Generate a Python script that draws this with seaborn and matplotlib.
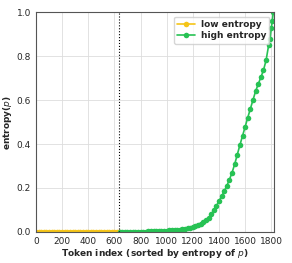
import pandas as pd
import matplotlib
matplotlib.use("Agg")
import matplotlib.pyplot as plt
import seaborn as sns

# low entropy tokens (sorted), all near zero
low_idx = [0, 20, 40, 60, 80, 100, 120, 140, 160, 180, 200, 220, 240, 260, 280, 300,
           320, 340, 360, 380, 400, 420, 440, 460, 480, 500, 520, 540, 560, 580, 600,
           620, 635]
low_ent = [0.0, 0.0, 0.0, 0.0, 0.0, 0.0, 0.0, 0.0, 0.0, 0.0, 0.0, 0.0, 0.0, 0.0, 0.0, 0.0,
           0.0, 0.0, 0.0, 0.0, 0.0, 0.0, 0.0, 0.0, 0.0, 0.0, 0.0, 0.0, 0.0, 0.0, 0.0,
           0.0, 0.0]

# high entropy tokens
high_idx = [640, 660, 680, 700, 720, 740, 760, 780, 800, 820, 840, 860, 880, 900, 920,
            940, 960, 980, 1000, 1020, 1040, 1060, 1080, 1100, 1120, 1140, 1160, 1180,
            1200, 1220, 1240, 1260, 1280, 1300, 1320, 1340, 1360, 1380, 1400, 1420, 1440,
            1460, 1480, 1500, 1520, 1540, 1560, 1580, 1600, 1620, 1640, 1660, 1680, 1700,
            1720, 1740, 1760, 1780, 1790, 1800, 1808, 1815]
high_ent = [0.000, 0.000, 0.000, 0.001, 0.001, 0.001, 0.001, 0.002, 0.002, 0.002, 0.002,
            0.003, 0.003, 0.003, 0.004, 0.004, 0.005, 0.005, 0.006, 0.007, 0.008, 0.009,
            0.010, 0.011, 0.013, 0.015, 0.017, 0.020, 0.023, 0.027, 0.032, 0.038, 0.045,
            0.053, 0.063, 0.080, 0.098, 0.118, 0.140, 0.162, 0.185, 0.210, 0.238, 0.270,
            0.308, 0.352, 0.395, 0.437, 0.478, 0.520, 0.560, 0.600, 0.640, 0.672, 0.703,
            0.735, 0.780, 0.850, 0.877, 0.927, 0.960, 1.000]

split_idx = 635

sns.set_style("whitegrid")
plt.rcParams['font.family'] = ['DejaVu Sans']

fig, ax = plt.subplots(figsize=(2.92, 2.63), dpi=100)
fig.subplots_adjust(left=0.123, right=0.938, top=0.954, bottom=0.118)

low_df = pd.DataFrame({"idx": low_idx, "ent": low_ent})
high_df = pd.DataFrame({"idx": high_idx, "ent": high_ent})

sns.lineplot(data=low_df, x="idx", y="ent", ax=ax, color="#f5c518", marker="o",
             markersize=4, markeredgewidth=0, linewidth=1.2, label="low entropy")
sns.lineplot(data=high_df, x="idx", y="ent", ax=ax, color="#27c254", marker="o",
             markersize=4, markeredgewidth=0, linewidth=1.2, label="high entropy")

ax.axvline(split_idx, color="black", linestyle=":", linewidth=0.8)

ax.set_xlim(0, 1820)
ax.set_ylim(0, 1.0)
ax.set_xticks([0, 200, 400, 600, 800, 1000, 1200, 1400, 1600, 1800])
ax.set_yticks([0.0, 0.2, 0.4, 0.6, 0.8, 1.0])
ax.tick_params(labelsize=6.5, length=2, pad=1.5)
ax.set_xlabel("Token index (sorted by entropy of $p$)", fontsize=6.5, fontweight="bold", labelpad=1)
ax.set_ylabel("entropy($p$)", fontsize=6.5, fontweight="bold", labelpad=2)
ax.grid(color="#dddddd", linewidth=0.6)
for s in ax.spines.values():
    s.set_color("#555555")
    s.set_linewidth(0.8)

leg = ax.legend(loc="upper right", fontsize=6.5, frameon=True, borderpad=0.35,
                handlelength=2.0, handletextpad=0.6, labelspacing=0.3)
for t in leg.get_texts():
    t.set_fontweight("bold")

plt.savefig("out.png", dpi=100)
